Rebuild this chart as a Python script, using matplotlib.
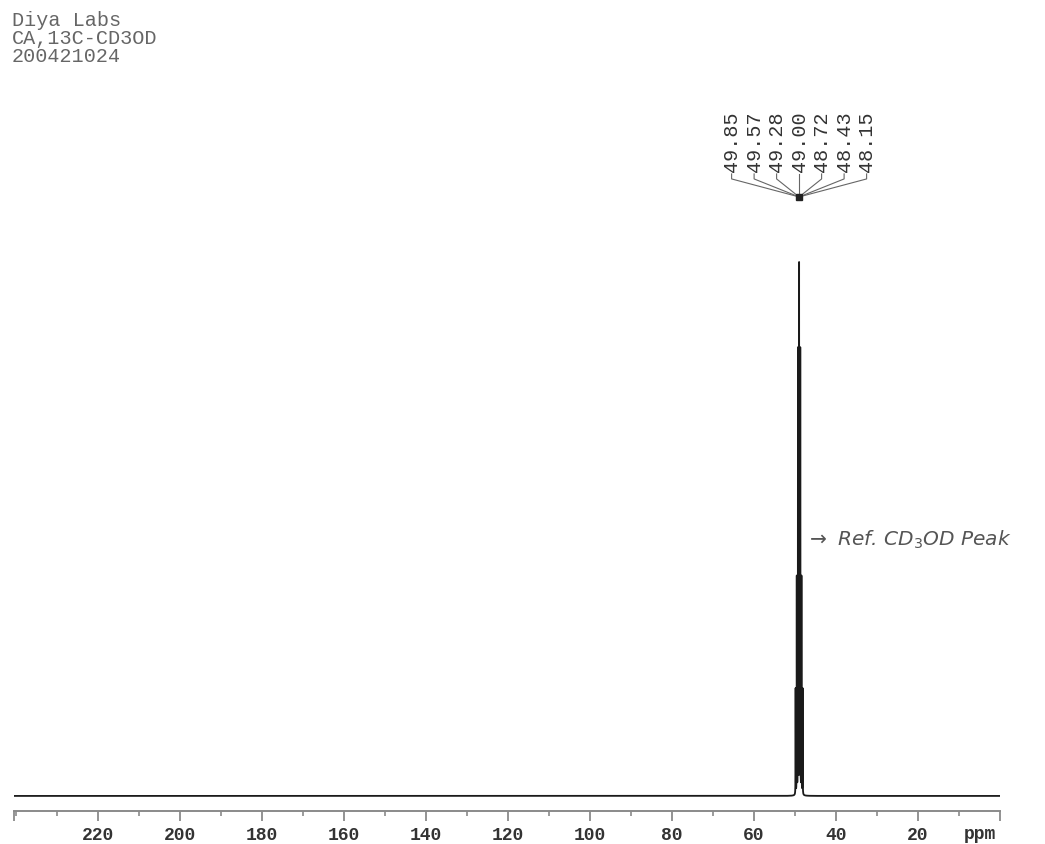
import numpy as np
import matplotlib as mpl
import matplotlib.pyplot as plt
from matplotlib.ticker import FixedLocator, FixedFormatter, MultipleLocator


# CD3OD carbon septet: shifts (ppm) and relative intensities
shifts = [49.85, 49.57, 49.28, 49.00, 48.72, 48.43, 48.15]
heights = [20, 41, 84, 100, 84, 41, 20]
peak_labels = ['49.85', '49.57', '49.28', '49.00', '48.72', '48.43', '48.15']

major_ticks = [220, 200, 180, 160, 140, 120, 100, 80, 60, 40, 20]
ppm_lo, ppm_hi = 0.0, 240.5
header = ['Diya Labs', 'CA,13C-CD3OD', '200421024']
note = r'$\rightarrow$ Ref. CD$_3$OD Peak'

mono = 'Liberation Mono'

# spectrum on a fine grid, lorentzian lines
hwhm = 0.02
ppm = np.linspace(ppm_hi, ppm_lo, 240501)
spec = np.zeros_like(ppm)
for s, h in zip(shifts, heights):
    spec += h / (1 + ((ppm - s) / hwhm) ** 2)

W, H = 1045, 845
fig = plt.figure(figsize=(W / 100, H / 100), dpi=100)

# axes frame in pixels
ax_l, ax_r, ax_b, ax_t = 14, 1000, 812, 100
ax = fig.add_axes([ax_l / W, (H - ax_b) / H, (ax_r - ax_l) / W, (ax_b - ax_t) / H])

ylo, yhi = -2.85, 131.8
ax.plot(ppm, spec, c='#1a1a1a', lw=1.3, solid_joinstyle='round')
ax.set_xlim(ppm_hi, ppm_lo)
ax.set_ylim(ylo, yhi)

for side in ('top', 'left', 'right'):
    ax.spines[side].set_visible(False)
ax.spines['bottom'].set_color('#8a8a8a')
ax.spines['bottom'].set_linewidth(1.4)
ax.set_yticks([])

ticks = [ppm_hi] + major_ticks + [ppm_lo]
labels = [''] + [str(t) for t in major_ticks] + ['']
ax.xaxis.set_major_locator(FixedLocator(ticks))
ax.xaxis.set_major_formatter(FixedFormatter(labels))
ax.xaxis.set_minor_locator(MultipleLocator(10))
ax.tick_params(axis='x', which='major', length=7, width=1.3, color='#8a8a8a',
               pad=4, labelsize=13, labelcolor='#333333')
ax.tick_params(axis='x', which='minor', length=3.5, width=1.2, color='#8a8a8a')
for lab in ax.get_xticklabels():
    lab.set_fontfamily(mono)
    lab.set_fontweight('bold')

ax.annotate('ppm', xy=(0.98, 0), xycoords='axes fraction', xytext=(0, -10),
            textcoords='offset points', ha='center', va='top',
            fontfamily=mono, fontweight='bold', fontsize=13, color='#333333')

# pixel -> data scale for the peak label tree
px_per_ppm = (ax_r - ax_l) / (ppm_hi - ppm_lo)
px_per_unit = (ax_b - ax_t) / (yhi - ylo)
center = shifts[3]
y_root = (797 - 198) / px_per_unit
step = 22.5

for i, lab in enumerate(peak_labels):
    dx = (i - 3) * step
    x_lab = center - dx / px_per_ppm
    y_bend = y_root + 18 / px_per_unit
    y_top = y_root + 23 / px_per_unit
    ax.plot([center, x_lab, x_lab], [y_root, y_bend, y_top], c='#666666', lw=0.8,
            clip_on=False)
    ax.text(x_lab, y_root + 26 / px_per_unit, lab, rotation=90, ha='center', va='bottom',
            fontfamily=mono, fontsize=14.5, color='#333333', clip_on=False)
ax.plot([center], [y_root], marker='s', ms=4, c='#222222', clip_on=False)

ax.text(center - 7 / px_per_ppm, (797 - 540) / px_per_unit, note, ha='left', va='center',
        fontsize=14.5, color='#555555', fontstyle='italic')

fig.text(12 / W, 1 - 11 / H, '\n'.join(header), ha='left', va='top',
         fontfamily=mono, fontsize=14.5, color='#666666', linespacing=0.95)

plt.savefig('out.png', dpi=100)
